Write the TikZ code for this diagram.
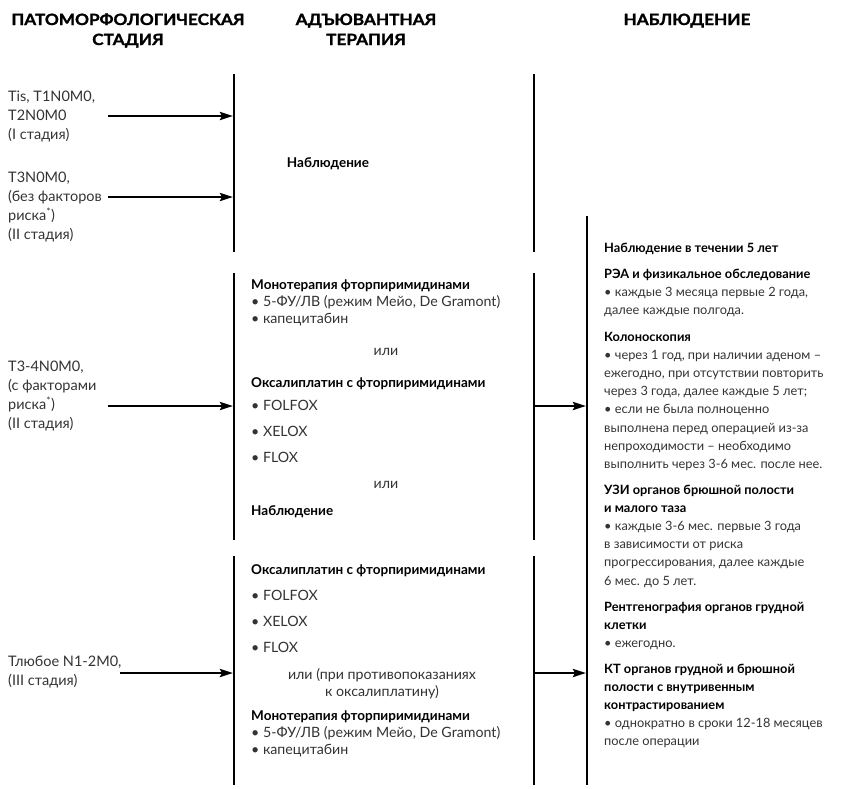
\documentclass[tikz,border=0pt]{standalone}
\usepackage{fontspec}
\setmainfont{Lato}
\newfontfamily\hdfont{Lato}[FakeStretch=1.11, FakeBold=1.4]
\usetikzlibrary{arrows.meta}
\definecolor{txt}{HTML}{333333}
\tikzset{
  bar/.style={line width=2.6pt, line cap=butt},
  arr/.style={line width=2.6pt, -{Stealth[length=13pt,width=8pt,inset=2pt]}},
  hdr/.style={anchor=base, inner sep=0pt, align=center, text=black,
    font=\hdfont\bfseries\fontsize{15.5}{20}\selectfont},
  lefttxt/.style={anchor=base west, inner sep=0pt, align=left, text=txt,
    font=\fontsize{14.5}{19.3}\selectfont},
  midtxt/.style={anchor=base west, inner sep=0pt, align=left, text=txt,
    font=\fontsize{14.2}{17}\selectfont},
  midc/.style={anchor=base, inner sep=0pt, align=center, text=txt,
    font=\fontsize{14.2}{17}\selectfont},
  midb/.style={anchor=base west, inner sep=0pt, align=left, text=black,
    font=\bfseries\fontsize{13.5}{17}\selectfont},
  obstxt/.style={anchor=base west, inner sep=0pt, align=left, text=txt,
    font=\fontsize{12.8}{18.2}\selectfont},
}
\begin{document}
\begin{tikzpicture}[x=1pt,y=-1pt]
\useasboundingbox (0,0) rectangle (851,788);

% headers (base = last line)
\node[hdr] (h1) at (128,45) {ПАТОМОРФОЛОГИЧЕСКАЯ\\СТАДИЯ};
\node[hdr] (h2) at (366,45) {АДЪЮВАНТНАЯ\\ТЕРАПИЯ};
\node[hdr] (h3) at (687,25) {НАБЛЮДЕНИЕ};

% stage labels (base = last line)
\node[lefttxt] (s1) at (8,139.6) {Tis, T1N0M0,\\T2N0M0\\(I стадия)};
\node[lefttxt] (s2) at (8,239.9) {T3N0M0,\\(без факторов\\риска\textsuperscript{*})\\(II стадия)};
\node[lefttxt] (s3) at (8,428.9) {T3-4N0M0,\\(с факторами\\риска\textsuperscript{*})\\(II стадия)};
\node[lefttxt] (s4) at (8,685.3) {Тлюбое N1-2M0,\\(III стадия)};

% bars
\coordinate (l1t) at (234,74);  \coordinate (l1b) at (234,252);
\coordinate (l2t) at (234,273); \coordinate (l2b) at (234,540);
\coordinate (l3t) at (234,556); \coordinate (l3b) at (234,785);
\coordinate (r1t) at (534,74);  \coordinate (r1b) at (534,252);
\coordinate (r2t) at (534,273); \coordinate (r2b) at (534,540);
\coordinate (r3t) at (534,556); \coordinate (r3b) at (534,785);
\coordinate (ot) at (587,216);  \coordinate (ob) at (587,785);
\foreach \a/\b in {l1t/l1b,l2t/l2b,l3t/l3b,r1t/r1b,r2t/r2b,r3t/r3b,ot/ob}
  \draw[bar] (\a) -- (\b);

% arrows
\coordinate (a1s) at (108,116); \coordinate (a1e) at (233,116);
\coordinate (a2s) at (108,197); \coordinate (a2e) at (233,197);
\coordinate (a3s) at (108,406); \coordinate (a3e) at (233,406);
\coordinate (a4s) at (120,673); \coordinate (a4e) at (233,673);
\coordinate (b1s) at (534,406); \coordinate (b1e) at (586,406);
\coordinate (b2s) at (534,673); \coordinate (b2e) at (586,673);
\foreach \a/\b in {a1s/a1e,a2s/a2e,a3s/a3e,a4s/a4e,b1s/b1e,b2s/b2e}
  \draw[arr] (\a) -- (\b);

% therapy block 1
\node[midb, anchor=base] (t1) at (328,167) {Наблюдение};

% therapy block 2
\node[midb] (t2a) at (251,289) {Монотерапия фторпиримидинами};
\node[midtxt] (t2b) at (251,323) {• 5-ФУ/ЛВ (режим Мейо, De Gramont)\\• капецитабин};
\node[midc] (t2c) at (386,355) {или};
\node[midb] (t2d) at (251,387) {Оксалиплатин с фторпиримидинами};
\node[midtxt] (t2e) at (251,410) {• FOLFOX};
\node[midtxt] (t2f) at (251,436) {• XELOX};
\node[midtxt] (t2g) at (251,462) {• FLOX};
\node[midc] (t2h) at (386,488) {или};
\node[midb] (t2i) at (251,515) {Наблюдение};

% therapy block 3
\node[midb] (t3a) at (251,574) {Оксалиплатин с фторпиримидинами};
\node[midtxt] (t3b) at (251,600) {• FOLFOX};
\node[midtxt] (t3c) at (251,626) {• XELOX};
\node[midtxt] (t3d) at (251,652) {• FLOX};
\node[midc] (t3e) at (382,696) {или (при противопоказаниях\\к оксалиплатину)};
\node[midb] (t3f) at (251,720) {Монотерапия фторпиримидинами};
\node[midtxt] (t3g) at (251,754) {• 5-ФУ/ЛВ (режим Мейо, De Gramont)\\• капецитабин};

% observation (base = last line)
\node[obstxt] (o1) at (604,252) {\textbf{\color{black}Наблюдение в течении 5 лет}};
\node[obstxt] (o2) at (604,314.4) {\textbf{\color{black}РЭА и физикальное обследование}\\• каждые 3 месяца первые 2 года,\\далее каждые полгода.};
\node[obstxt] (o3) at (604,468.4) {\textbf{\color{black}Колоноскопия}\\• через 1 год, при наличии аденом –\\ежегодно, при отсутствии повторить\\через 3 года, далее каждые 5 лет;\\• если не была полноценно\\выполнена перед операцией из-за\\непроходимости – необходимо\\выполнить через 3-6 мес. после нее.};
\node[obstxt] (o4) at (604,585) {\textbf{\color{black}УЗИ органов брюшной полости}\\\textbf{\color{black}и малого таза}\\• каждые 3-6 мес. первые 3 года\\в зависимости от риска\\прогрессирования, далее каждые\\6 мес. до 5 лет.};
\node[obstxt] (o5) at (604,647.4) {\textbf{\color{black}Рентгенография органов грудной}\\\textbf{\color{black}клетки}\\• ежегодно.};
\node[obstxt] (o6) at (604,745.8) {\textbf{\color{black}КТ органов грудной и брюшной}\\\textbf{\color{black}полости с внутривенным}\\\textbf{\color{black}контрастированием}\\• однократно в сроки 12-18 месяцев\\после операции};
\end{tikzpicture}
\end{document}
